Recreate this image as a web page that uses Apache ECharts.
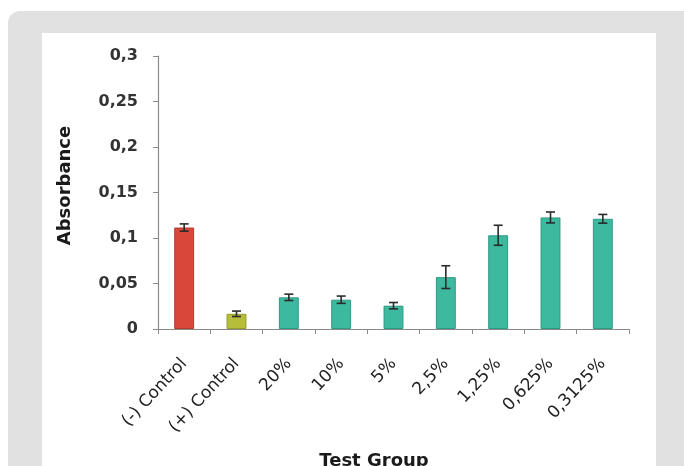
<!DOCTYPE html>
<html>
<head>
<meta charset="utf-8">
<style>html,body{margin:0;padding:0;background:#fff;}#c{width:684px;height:466px;}</style>
<script src="https://cdn.jsdelivr.net/npm/echarts@6/dist/echarts.min.js"></script>
</head>
<body>
<div id="c"></div>
<script>
const categories = ['(-) Control', '(+) Control', '20%', '10%', '5%', '2,5%', '1,25%', '0,625%', '0,3125%'];
const values = [0.1115, 0.0167, 0.0348, 0.0322, 0.0256, 0.057, 0.103, 0.1226, 0.1211];
const errors = [0.004, 0.003, 0.0035, 0.004, 0.0035, 0.0125, 0.011, 0.006, 0.0048];
const barColors = ['#d9463a', '#b6bd38', '#3cb99f', '#3cb99f', '#3cb99f', '#3cb99f', '#3cb99f', '#3cb99f', '#3cb99f'];
const borderColors = ['#b23a2f', '#959b2c', '#2f9882', '#2f9882', '#2f9882', '#2f9882', '#2f9882', '#2f9882', '#2f9882'];
const yTicks = [0, 0.05, 0.1, 0.15, 0.2, 0.25, 0.3];

const chart = echarts.init(document.getElementById('c'), null, {renderer: 'canvas'});
const errData = values.map((v, i) => [i, v - errors[i], v + errors[i]]);

chart.setOption({
  animation: false,
  backgroundColor: '#ffffff',
  graphic: [
    {type: 'rect', shape: {x: 8, y: 11, width: 690, height: 480, r: 12}, style: {fill: '#e1e1e1'}, z: -10},
    {type: 'rect', shape: {x: 42, y: 33, width: 614, height: 440}, style: {fill: '#ffffff'}, z: -9}
  ],
  title: {
    text: 'Test Group',
    left: 369, top: 447,
    textAlign: 'center',
    textStyle: {fontFamily: 'DejaVu Sans', fontWeight: 'bold', fontSize: 18, color: '#1a1a1a'}
  },
  grid: {left: 158, right: 55, top: 56, bottom: 137, containLabel: false},
  xAxis: {
    type: 'category',
    data: categories,
    axisLine: {lineStyle: {color: '#8a8a8a', width: 1.2}},
    axisTick: {show: true, length: 5, lineStyle: {color: '#8a8a8a'}},
    axisLabel: {rotate: 47, margin: 32, fontFamily: 'DejaVu Sans', fontSize: 17, color: '#222'}
  },
  yAxis: {
    type: 'value',
    min: 0, max: 0.3, interval: 0.05,
    name: 'Absorbance',
    nameLocation: 'middle',
    nameGap: 84,
    nameTextStyle: {fontFamily: 'DejaVu Sans', fontWeight: 'bold', fontSize: 18, color: '#1a1a1a', padding: [0, 0, 0, 14]},
    splitLine: {show: false},
    axisLine: {show: true, lineStyle: {color: '#8a8a8a', width: 1.2}},
    axisTick: {show: true, length: 5, lineStyle: {color: '#8a8a8a'}},
    axisLabel: {
      margin: 20,
      fontFamily: 'DejaVu Sans', fontWeight: 'bold', fontSize: 16, color: '#333',
      formatter: v => {
        const t = yTicks.find(x => Math.abs(x - v) < 1e-9);
        return String(+(t !== undefined ? t : v).toFixed(3)).replace('.', ',');
      }
    }
  },
  series: [
    {
      type: 'bar',
      barWidth: '38%',
      data: values.map((v, i) => ({value: v, itemStyle: {color: barColors[i], borderColor: borderColors[i], borderWidth: 1}})),
      z: 2
    },
    {
      type: 'custom',
      data: errData,
      z: 3,
      renderItem: function (params, api) {
        const x = api.value(0);
        const lo = api.coord([x, api.value(1)]);
        const hi = api.coord([x, api.value(2)]);
        const w = 4.5;
        const st = {stroke: '#2b2b2b', lineWidth: 1.6};
        return {
          type: 'group',
          children: [
            {type: 'line', shape: {x1: lo[0], y1: lo[1], x2: hi[0], y2: hi[1]}, style: st},
            {type: 'line', shape: {x1: lo[0] - w, y1: lo[1], x2: lo[0] + w, y2: lo[1]}, style: st},
            {type: 'line', shape: {x1: hi[0] - w, y1: hi[1], x2: hi[0] + w, y2: hi[1]}, style: st}
          ]
        };
      }
    }
  ]
});
</script>
</body>
</html>
